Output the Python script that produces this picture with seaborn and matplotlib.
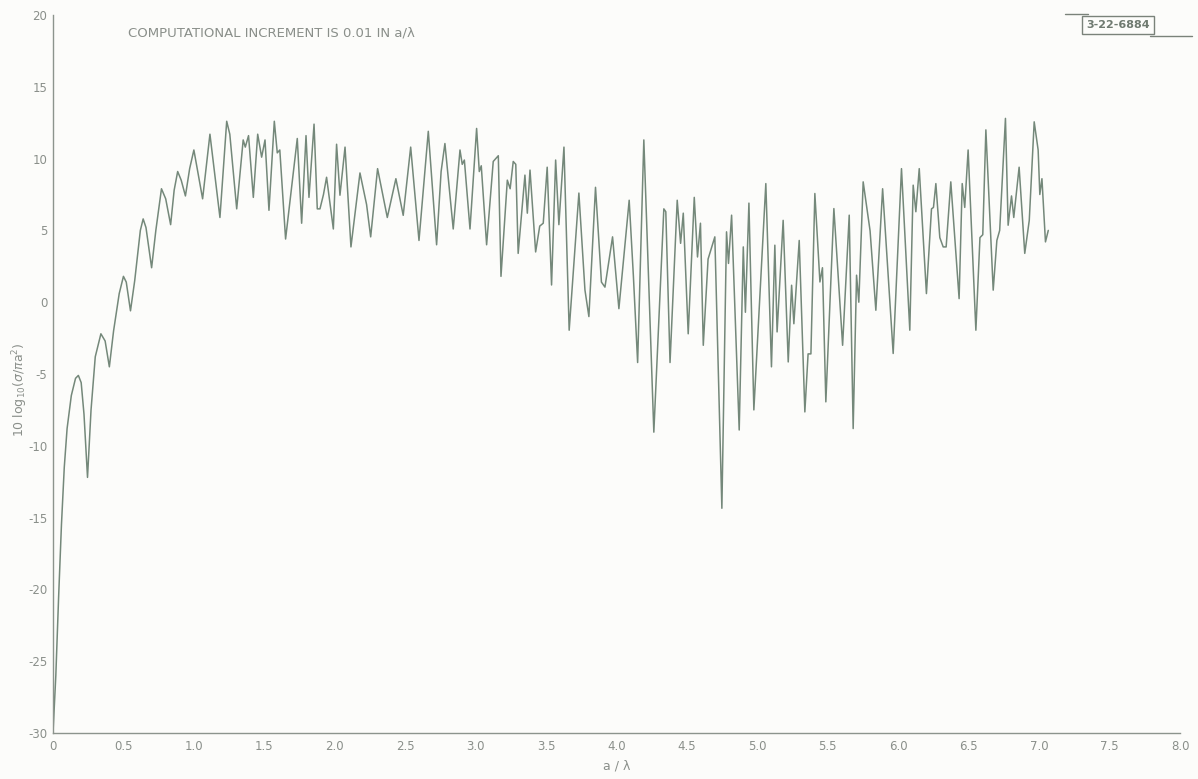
import matplotlib
matplotlib.use("Agg")
import matplotlib.pyplot as plt
from matplotlib.lines import Line2D
import seaborn as sns
import pandas as pd

# a/lambda values (extrema and shoulders of the curve)
a_over_lambda = [
    0.00, 0.02, 0.04, 0.06, 0.08, 0.10, 0.13, 0.16, 0.18, 0.20, 0.22, 0.245,
    0.27, 0.30, 0.34, 0.37, 0.40, 0.43, 0.47, 0.50, 0.52, 0.55, 0.58, 0.62,
    0.64, 0.66, 0.70, 0.73, 0.77, 0.80, 0.835, 0.86, 0.885, 0.91, 0.94, 0.97,
    1.000, 1.062, 1.114, 1.185, 1.233, 1.255, 1.304, 1.350, 1.365, 1.388,
    1.422, 1.453, 1.481, 1.505, 1.533, 1.571, 1.592, 1.610, 1.651, 1.734,
    1.765, 1.796, 1.817, 1.853, 1.876, 1.895, 1.920, 1.942, 1.990, 2.013,
    2.037, 2.073, 2.115, 2.179, 2.226, 2.255, 2.304, 2.373, 2.434, 2.486,
    2.539, 2.598, 2.664, 2.723, 2.755, 2.782, 2.841, 2.889, 2.905, 2.920,
    2.960, 3.007, 3.026, 3.040, 3.078, 3.125, 3.161, 3.180, 3.225, 3.245,
    3.267, 3.285, 3.302, 3.350, 3.367, 3.386, 3.426, 3.455, 3.480, 3.508,
    3.539, 3.568, 3.591, 3.627, 3.664, 3.733, 3.776, 3.804, 3.851, 3.893,
    3.918, 3.972, 4.017, 4.090, 4.120, 4.150, 4.194, 4.265, 4.336, 4.350,
    4.380, 4.431, 4.455, 4.474, 4.509, 4.552, 4.575, 4.596, 4.616, 4.650,
    4.698, 4.748, 4.781, 4.795, 4.817, 4.871, 4.900, 4.915, 4.940, 4.975,
    5.060, 5.100, 5.124, 5.140, 5.183, 5.219, 5.243, 5.259, 5.297, 5.337,
    5.360, 5.380, 5.408, 5.444, 5.462, 5.486, 5.543, 5.605, 5.652, 5.680,
    5.704, 5.720, 5.751, 5.800, 5.841, 5.889, 5.964, 6.023, 6.082, 6.106,
    6.125, 6.149, 6.200, 6.236, 6.250, 6.267, 6.295, 6.319, 6.340, 6.373,
    6.432, 6.454, 6.472, 6.496, 6.551, 6.580, 6.600, 6.622, 6.674, 6.700,
    6.720, 6.761, 6.780, 6.804, 6.820, 6.858, 6.898, 6.930, 6.965, 6.993,
    7.005, 7.020, 7.045, 7.065,
]

# 10 log10(sigma / pi a^2) in dB
rcs_db = [
    -30.0, -26.0, -20.5, -15.5, -11.5, -8.8, -6.5, -5.3, -5.1, -5.6, -7.8, -12.2,
    -7.5, -3.8, -2.2, -2.7, -4.5, -2.0, 0.6, 1.8, 1.4, -0.6, 1.5, 5.0,
    5.8, 5.2, 2.4, 5.0, 7.9, 7.2, 5.4, 7.8, 9.1, 8.5, 7.4, 9.3,
    10.6, 7.2, 11.7, 5.9, 12.6, 11.7, 6.5, 11.3, 10.8, 11.6,
    7.3, 11.7, 10.1, 11.3, 6.4, 12.6, 10.4, 10.6, 4.4, 11.4,
    5.5, 11.6, 7.3, 12.4, 6.5, 6.5, 7.5, 8.7, 5.1, 11.0,
    7.45, 10.8, 3.85, 9.0, 6.8, 4.55, 9.3, 5.9, 8.6, 6.05,
    10.8, 4.3, 11.9, 4.0, 9.1, 11.05, 5.1, 10.6, 9.6, 9.9,
    5.1, 12.1, 9.1, 9.5, 4.0, 9.8, 10.2, 1.8, 8.5, 7.9,
    9.8, 9.6, 3.4, 8.85, 6.2, 9.2, 3.5, 5.3, 5.5, 9.4,
    1.2, 9.9, 5.4, 10.8, -1.95, 7.6, 0.85, -1.0, 8.0, 1.4,
    1.05, 4.55, -0.45, 7.1, 1.8, -4.2, 11.3, -9.05, 6.5, 6.3,
    -4.2, 7.1, 4.1, 6.2, -2.2, 7.3, 3.15, 5.5, -3.0, 3.0,
    4.55, -14.35, 4.9, 2.7, 6.06, -8.9, 3.85, -0.7, 6.9, -7.5,
    8.26, -4.5, 3.97, -2.07, 5.7, -4.16, 1.18, -1.5, 4.3, -7.64,
    -3.6, -3.6, 7.57, 1.41, 2.4, -6.94, 6.52, -3.0, 6.06, -8.8,
    1.88, 0.0, 8.38, 4.97, -0.56, 7.9, -3.57, 9.3, -1.95, 8.15,
    6.3, 9.3, 0.6, 6.5, 6.6, 8.26, 4.5, 3.85, 3.85, 8.38,
    0.25, 8.26, 6.6, 10.6, -1.95, 4.5, 4.7, 12.0, 0.84, 4.3,
    5.0, 12.8, 5.36, 7.4, 5.9, 9.4, 3.4, 5.7, 12.56, 10.6,
    7.5, 8.6, 4.2, 5.0,
]

x_ticks = [0, 0.5, 1.0, 1.5, 2.0, 2.5, 3.0, 3.5, 4.0, 4.5, 5.0, 5.5, 6.0, 6.5, 7.0, 7.5, 8.0]
x_tick_labels = ["0", "0.5", "1.0", "1.5", "2.0", "2.5", "3.0", "3.5", "4.0",
                 "4.5", "5.0", "5.5", "6.0", "6.5", "7.0", "7.5", "8.0"]
y_ticks = [-30, -25, -20, -15, -10, -5, 0, 5, 10, 15, 20]
y_tick_labels = ["-30", "-25", "-20", "-15", "-10", "-5", "0", "5", "10", "15", "20"]

title_text = "COMPUTATIONAL INCREMENT IS 0.01 IN a/λ"
stamp_text = "3-22-6884"

df = pd.DataFrame({"a": a_over_lambda, "rcs": rcs_db})

sns.set_theme(style="white")
plt.rcParams["font.family"] = ["DejaVu Sans"]

W, H = 1198, 779
fig = plt.figure(figsize=(W / 100, H / 100), dpi=100, facecolor="#fcfcfa")
ax = fig.add_axes([53 / W, 1 - 733 / H, (1180 - 53) / W, (733 - 15) / H])
ax.set_facecolor("#fcfcfa")

line_col = "#74887a"
text_col = "#8a8f8a"
axis_col = "#8c948d"

sns.lineplot(data=df, x="a", y="rcs", ax=ax, color=line_col, linewidth=1.1,
             sort=False, estimator=None)

ax.set_xlim(0, 8)
ax.set_ylim(-30, 20)
ax.set_xticks(x_ticks)
ax.set_xticklabels(x_tick_labels)
ax.set_yticks(y_ticks)
ax.set_yticklabels(y_tick_labels)
ax.set_xlabel("")
ax.set_ylabel("")

for s in ["top", "right"]:
    ax.spines[s].set_visible(False)
for s in ["left", "bottom"]:
    ax.spines[s].set_color(axis_col)
    ax.spines[s].set_linewidth(1.0)

ax.tick_params(axis="both", direction="in", length=8, width=1.0,
               color=axis_col, labelcolor=text_col, labelsize=8.5)
ax.tick_params(axis="x", pad=5)
ax.tick_params(axis="y", pad=4)
ax.grid(False)

fig.text(128 / W, 1 - 33 / H, title_text, fontsize=9.5, color=text_col,
         ha="left", va="center")
fig.text(1118 / W, 1 - 25 / H, stamp_text, fontsize=8, color="#6f7a70",
         ha="center", va="center", fontweight="bold",
         bbox=dict(boxstyle="square,pad=0.35", fc="none", ec="#7a827a", lw=1.0))
fig.add_artist(Line2D([1065 / W, 1088 / W], [1 - 14 / H, 1 - 14 / H],
                      transform=fig.transFigure, color="#7a827a", lw=1.0))
fig.add_artist(Line2D([1150 / W, 1192 / W], [1 - 36 / H, 1 - 36 / H],
                      transform=fig.transFigure, color="#7a827a", lw=1.0))

fig.text(20 / W, 1 - 390 / H, r"10 log$_{10}$($\sigma$/$\pi$a$^2$)", fontsize=9,
         color=text_col, rotation=90, ha="center", va="center")
fig.text(617 / W, 1 - 766 / H, "a / λ", fontsize=9, color=text_col,
         ha="center", va="center")

fig.savefig("out.png", dpi=100, facecolor=fig.get_facecolor())
